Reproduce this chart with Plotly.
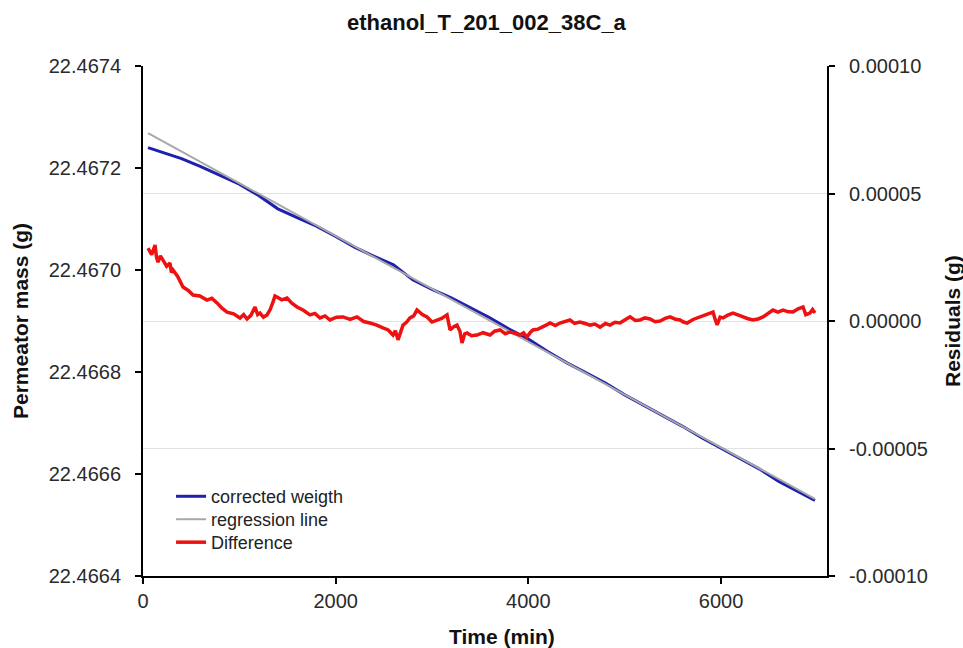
import plotly.graph_objects as go

# ---------------- data ----------------
title_text = "ethanol_T_201_002_38C_a"
x_title = "Time (min)"
y_left_title = "Permeator mass (g)"
y_right_title = "Residuals (g)"

# corrected weight (g) vs time (min)
blue_t = [52, 200, 400, 600, 800, 1000, 1200, 1400, 1600, 1800, 2000, 2200, 2400,
          2600, 2800, 3000, 3200, 3400, 3600, 3800, 4000, 4200, 4400, 4600, 4800,
          5000, 5200, 5400, 5600, 5800, 6000, 6200, 6400, 6600, 6800, 6975]
blue_v = [22.4672400, 22.4672303, 22.4672185, 22.4672028, 22.4671851, 22.4671683,
          22.4671461, 22.4671199, 22.4671026, 22.4670859, 22.4670657, 22.4670443,
          22.4670267, 22.4670100, 22.4669807, 22.4669620, 22.4669453, 22.4669266,
          22.4669063, 22.4668844, 22.4668644, 22.4668401, 22.4668179, 22.4667984,
          22.4667784, 22.4667552, 22.4667345, 22.4667137, 22.4666935, 22.4666710,
          22.4666505, 22.4666293, 22.4666096, 22.4665855, 22.4665646, 22.4665480]

# regression line (g)
reg_t = [52, 6975]
reg_v = [22.4672686, 22.4665510]

# difference / residuals (g)
red_t = [52, 90, 125, 140, 156, 180, 208, 245, 280, 295, 311, 360, 415, 470, 519,
         590, 664, 715, 768, 820, 872, 940, 1007, 1045, 1080, 1120, 1163, 1190,
         1214, 1250, 1287, 1320, 1349, 1370, 1391, 1440, 1495, 1545, 1599, 1665,
         1733, 1785, 1837, 1890, 1941, 2010, 2076, 2150, 2221, 2290, 2356, 2420,
         2491, 2545, 2595, 2620, 2647, 2675, 2699, 2735, 2771, 2810, 2844, 2900,
         2948, 3000, 3052, 3100, 3156, 3170, 3187, 3225, 3259, 3290, 3311, 3340,
         3363, 3410, 3467, 3530, 3602, 3650, 3706, 3760, 3810, 3860, 3913, 3950,
         3986, 4020, 4048, 4100, 4152, 4190, 4225, 4280, 4328, 4380, 4432, 4480,
         4536, 4590, 4640, 4690, 4744, 4800, 4848, 4900, 4951, 5000, 5055, 5110,
         5159, 5210, 5263, 5315, 5367, 5420, 5470, 5520, 5574, 5610, 5647, 5710,
         5782, 5850, 5917, 5940, 5960, 5990, 6020, 6070, 6124, 6175, 6228, 6280,
         6332, 6385, 6436, 6490, 6539, 6590, 6643, 6700, 6747, 6800, 6851, 6880,
         6923, 6950, 6975]
red_v = [28.6e-6, 26.0e-6, 29.8e-6, 25.0e-6, 23.1e-6, 25.5e-6, 23.9e-6, 21.5e-6,
         22.7e-6, 19.0e-6, 20.0e-6, 17.5e-6, 13.3e-6, 12.0e-6, 10.2e-6, 9.8e-6,
         8.2e-6, 8.9e-6, 7.1e-6, 5.0e-6, 3.5e-6, 2.8e-6, 1.2e-6, 2.5e-6, 0.8e-6,
         2.2e-6, 5.5e-6, 2.5e-6, 3.1e-6, 1.5e-6, 2.4e-6, 4.5e-6, 7.4e-6, 9.8e-6,
         9.4e-6, 8.3e-6, 9.0e-6, 7.0e-6, 5.5e-6, 4.2e-6, 2.4e-6, 3.0e-6, 1.2e-6,
         2.0e-6, 0.4e-6, 1.5e-6, 1.6e-6, 0.6e-6, 1.6e-6, -0.2e-6, -0.8e-6, -1.5e-6,
         -2.7e-6, -3.5e-6, -5.5e-6, -3.8e-6, -7.4e-6, -4.5e-6, -1.6e-6, -0.5e-6,
         1.2e-6, 2.0e-6, 4.3e-6, 2.5e-6, 1.6e-6, -0.4e-6, 0.4e-6, 1.0e-6, 2.4e-6,
         -0.5e-6, -3.5e-6, -2.2e-6, -1.6e-6, -4.0e-6, -8.6e-6, -5.0e-6, -4.7e-6,
         -5.8e-6, -5.5e-6, -4.6e-6, -5.5e-6, -4.0e-6, -3.5e-6, -5.0e-6, -4.3e-6,
         -4.8e-6, -5.5e-6, -4.6e-6, -6.3e-6, -4.5e-6, -3.5e-6, -3.2e-6, -2.4e-6,
         -1.5e-6, -0.8e-6, -1.8e-6, -0.8e-6, -0.2e-6, 0.4e-6, -0.9e-6, -0.4e-6,
         -1.0e-6, -1.6e-6, -1.2e-6, -2.4e-6, -1.0e-6, -1.6e-6, -0.5e-6, -0.8e-6,
         0.4e-6, 1.6e-6, 0.2e-6, 0.4e-6, 1.2e-6, 0.8e-6, -0.3e-6, 0.0, 1.0e-6,
         1.6e-6, 0.8e-6, 0.4e-6, -0.4e-6, -0.8e-6, 0.6e-6, 1.6e-6, 2.4e-6, 3.5e-6,
         0.5e-6, -1.5e-6, 1.5e-6, 1.2e-6, 2.3e-6, 3.1e-6, 2.4e-6, 1.6e-6, 0.9e-6,
         0.4e-6, 0.8e-6, 1.6e-6, 3.0e-6, 4.3e-6, 3.5e-6, 4.3e-6, 3.6e-6, 3.5e-6,
         4.8e-6, 5.5e-6, 2.5e-6, 3.1e-6, 4.5e-6, 3.1e-6]

# axis ticks
x_ticks = [0, 2000, 4000, 6000]
y_left_ticks = [22.4664, 22.4666, 22.4668, 22.4670, 22.4672, 22.4674]
y_left_labels = ["22.4664", "22.4666", "22.4668", "22.4670", "22.4672", "22.4674"]
y_right_ticks = [-0.0001, -0.00005, 0.0, 0.00005, 0.0001]
y_right_labels = ["-0.00010", "-0.00005", "0.00000", "0.00005", "0.00010"]

series_names = ["corrected weigth", "regression line", "Difference"]

# ---------------- figure ----------------
FONT = "Liberation Sans, Arial, sans-serif"
TICKFONT = dict(family=FONT, size=20, color="#2a2a2a")
TITLEFONT = dict(family=FONT, size=21, color="#111111")
LEGFONT = dict(family=FONT, size=18, color="#222222")

fig = go.Figure()
fig.add_trace(go.Scatter(x=blue_t, y=blue_v, mode="lines", name=series_names[0],
                         line=dict(color="#1f1fb0", width=3), yaxis="y",
                         legend="legend"))
fig.add_trace(go.Scatter(x=reg_t, y=reg_v, mode="lines", name=series_names[1],
                         line=dict(color="#a8a8a8", width=2), yaxis="y",
                         legend="legend2"))
fig.add_trace(go.Scatter(x=red_t, y=red_v, mode="lines", name=series_names[2],
                         line=dict(color="#ee1111", width=3.5), yaxis="y2",
                         legend="legend3"))

axis_common = dict(showline=True, linecolor="black", linewidth=2, ticks="outside",
                   tickwidth=2, tickcolor="black", ticklen=6, zeroline=False,
                   tickfont=TICKFONT)

legend_common = dict(x=0.041, xanchor="left", yanchor="top",
                     bgcolor="rgba(0,0,0,0)", itemwidth=30, font=LEGFONT)

fig.update_layout(
    width=963, height=648,
    paper_bgcolor="white", plot_bgcolor="white",
    margin=dict(l=143, r=136, t=66, b=72),
    xaxis=dict(range=[0, 7100], tickvals=x_ticks, showgrid=False,
               ticklabelstandoff=0, **axis_common),
    yaxis=dict(range=[22.4664, 22.4674], tickvals=y_left_ticks, ticktext=y_left_labels,
               showgrid=False, ticklabelstandoff=10, **axis_common),
    yaxis2=dict(range=[-0.0001, 0.0001], tickvals=y_right_ticks, ticktext=y_right_labels,
                overlaying="y", side="right", anchor="x", ticklabelstandoff=10,
                showgrid=True, gridcolor="#e2e2e2", gridwidth=1, **axis_common),
    # inner halves of the crossing tick marks
    xaxis2=dict(range=[0, 7100], tickvals=x_ticks, overlaying="x", anchor="y",
                side="bottom", ticks="inside", ticklen=5, tickwidth=2, tickcolor="black",
                showticklabels=False, showgrid=False, showline=False, zeroline=False),
    yaxis3=dict(range=[22.4664, 22.4674], tickvals=y_left_ticks, overlaying="y",
                anchor="x", side="left", ticks="inside", ticklen=5, tickwidth=2,
                tickcolor="black", showticklabels=False, showgrid=False,
                showline=False, zeroline=False),
    yaxis4=dict(range=[-0.0001, 0.0001], tickvals=y_right_ticks, overlaying="y",
                anchor="x", side="right", ticks="inside", ticklen=5, tickwidth=2,
                tickcolor="black", showticklabels=False, showgrid=False,
                showline=False, zeroline=False),
    showlegend=True,
    legend=dict(y=0.192, **legend_common),
    legend2=dict(y=0.147, **legend_common),
    legend3=dict(y=0.102, **legend_common),
    annotations=[
        dict(text="<b>" + title_text + "</b>", xref="paper", yref="paper",
             x=0.5, y=1, xshift=2, yshift=44, xanchor="center", yanchor="middle",
             showarrow=False, font=dict(family=FONT, size=22, color="#111111")),
        dict(text="<b>" + x_title + "</b>", xref="paper", yref="paper",
             x=0.5, y=0, xshift=17, yshift=-60, xanchor="center", yanchor="middle",
             showarrow=False, font=TITLEFONT),
        dict(text="<b>" + y_left_title + "</b>", xref="paper", yref="paper",
             x=0, y=0.5, xshift=-123, xanchor="center", yanchor="middle",
             textangle=-90, showarrow=False, font=TITLEFONT),
        dict(text="<b>" + y_right_title + "</b>", xref="paper", yref="paper",
             x=1, y=0.5, xshift=125, xanchor="center", yanchor="middle",
             textangle=-90, showarrow=False, font=TITLEFONT),
    ],
)

fig.write_html("out.html", config={"displayModeBar": False},
               post_script="document.body.style.margin='0px';")
